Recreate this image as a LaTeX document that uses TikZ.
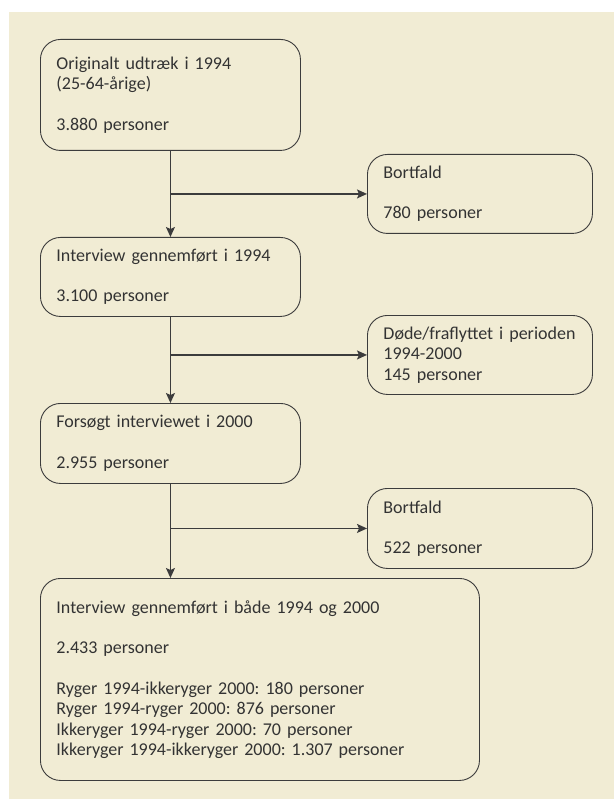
\documentclass[tikz,border=0pt]{standalone}
\usepackage{fontspec}
\setmainfont{Carlito}
\usetikzlibrary{arrows.meta}
\definecolor{Baggrund}{HTML}{F1ECD4}
\definecolor{Streg}{HTML}{3C3C3C}
\definecolor{Tekst}{HTML}{333333}
\frenchspacing

\begin{document}
\begin{tikzpicture}[x=1pt, y=-1pt,
    boks/.style={draw=Streg, line width=0.9pt, rounded corners=20pt, anchor=north west,
      align=left, inner xsep=16pt, inner ysep=0pt, text=Tekst,
      font=\fontsize{18}{20.5}\selectfont},
    pil/.style={draw=Streg, line width=1.2pt, -{Stealth[length=10pt,width=9pt,inset=2pt]}}]
  \useasboundingbox (0,0) rectangle (614,799);
  \fill[Baggrund] (9,12) rectangle (614,799);  % baggrund
  % venstre kolonne
  \node[boks, text width=228pt, minimum height=111pt] (udtraek) at (40,39)
    {Originalt udtræk i 1994\\(25-64-årige)\\[20pt]3.880 personer};
  \node[boks, text width=228pt, minimum height=79pt] (interview94) at (40,237)
    {Interview gennemført i 1994\\[20pt]3.100 personer};
  \node[boks, text width=228pt, minimum height=80pt] (forsoegt) at (40,403)
    {Forsøgt interviewet i 2000\\[20pt]2.955 personer};
  \node[boks, text width=407pt, minimum height=202pt] (begge) at (40,578)
    {Interview gennemført i både 1994 og 2000\\[20pt]2.433 personer\\[20pt]Ryger 1994-ikkeryger 2000: 180 personer\\Ryger 1994-ryger 2000: 876 personer\\Ikkeryger 1994-ryger 2000: 70 personer\\Ikkeryger 1994-ikkeryger 2000: 1.307 personer};
  % hoejre kolonne
  \node[boks, text width=193pt, minimum height=79pt] (bortfald1) at (367,154)
    {Bortfald\\[20pt]780 personer};
  \node[boks, text width=193pt, minimum height=79pt] (doede) at (367,315)
    {Døde/fraflyttet i perioden\\1994-2000\\145 personer};
  \node[boks, text width=193pt, minimum height=80pt] (bortfald2) at (367,488)
    {Bortfald\\[20pt]522 personer};
  % pile
  \draw[pil] (udtraek.south) -- (interview94.north);
  \draw[pil] (interview94.south) -- (forsoegt.north);
  \draw[pil] (forsoegt.south) -- (forsoegt.south |- begge.north);
  \draw[pil] (udtraek.south |- bortfald1.west) -- (bortfald1.west);
  \draw[pil] (interview94.south |- doede.west) -- (doede.west);
  \draw[pil] (forsoegt.south |- bortfald2.west) -- (bortfald2.west);
\end{tikzpicture}
\end{document}
